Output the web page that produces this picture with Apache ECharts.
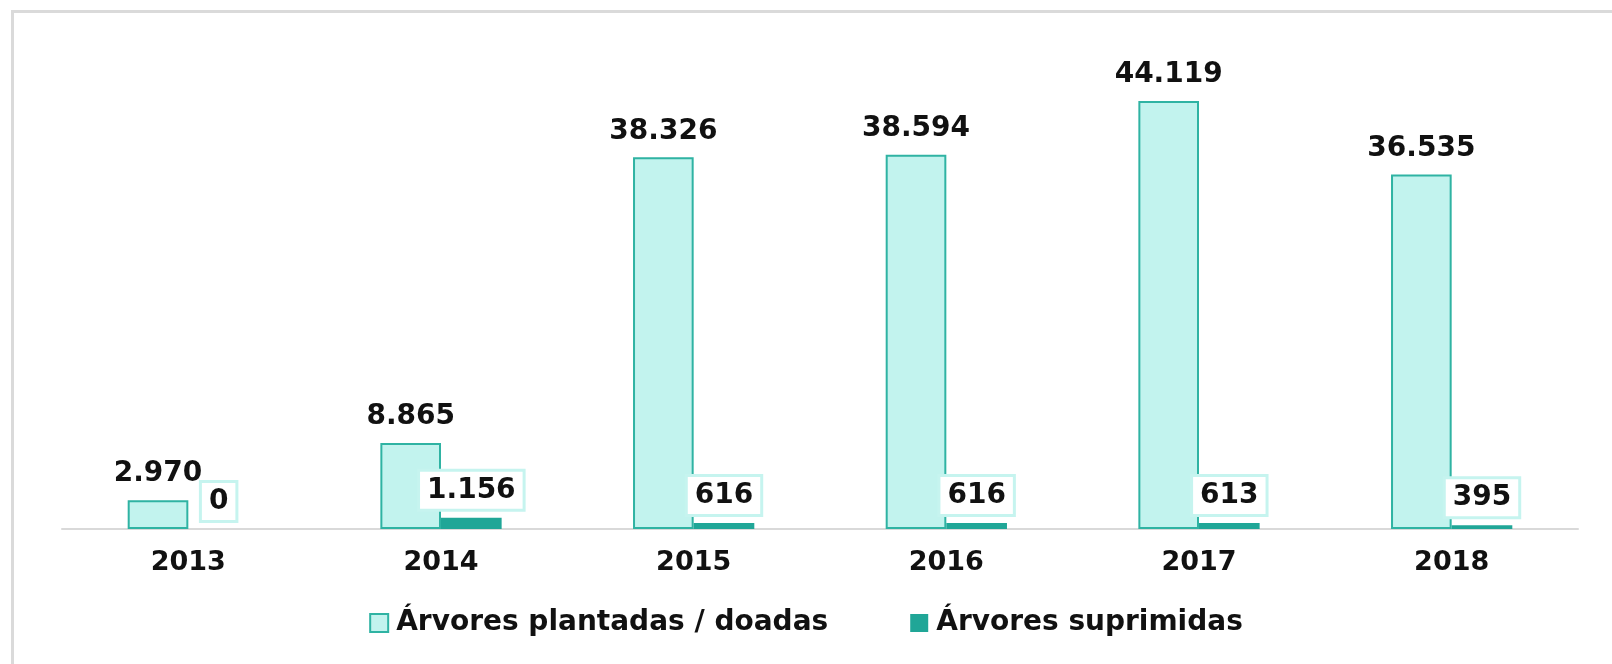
<!DOCTYPE html>
<html>
<head>
<meta charset="utf-8">
<script src="https://cdn.jsdelivr.net/npm/echarts@6/dist/echarts.min.js"></script>
<style>
  html, body { margin: 0; padding: 0; background: #fff; }
  #main { width: 1612px; height: 664px; }
</style>
</head>
<body>
<div id="main"></div>
<script>
// anos
let years = ['2013', '2014', '2015', '2016', '2017', '2018']
// árvores plantadas / doadas
let plantadas = [2970, 8865, 38326, 38594, 44119, 36535]
// árvores suprimidas
let suprimidas = [0, 1156, 616, 616, 613, 395]
// nomes das séries
let seriesNames = ['Árvores plantadas / doadas', 'Árvores suprimidas']

// formato 1.234 (ponto como separador de milhar)
function fmt(v){
    return String(v).replace(/\B(?=(\d{3})+(?!\d))/g, '.')
}

let myChart = echarts.init(document.getElementById('main'))
let fontFam = 'DejaVu Sans'

let option = {
    animation: false,
    backgroundColor: '#fff',
    textStyle: { fontFamily: fontFam },
    graphic: [
        {
            type: 'rect',
            shape: { x: 12.5, y: 11.5, width: 1700, height: 700 },
            style: { fill: 'none', stroke: '#dadada', lineWidth: 3 },
            silent: true
        }
    ],
    grid: {
        left: 62,
        right: 34,
        top: 44,
        bottom: 135
    },
    legend: {
        bottom: 22,
        left: 'center',
        itemWidth: 18,
        itemHeight: 18,
        itemGap: 82,
        icon: 'rect',
        textStyle: {
            fontFamily: fontFam,
            fontSize: 28,
            fontWeight: 'bold',
            color: '#111',
            padding: [0, 0, 0, 3]
        },
        data: seriesNames
    },
    xAxis: {
        type: 'category',
        data: years,
        axisLine: { lineStyle: { color: '#d9d9d9', width: 2 } },
        axisTick: { show: false },
        axisLabel: {
            margin: 20,
            fontFamily: fontFam,
            fontSize: 27,
            fontWeight: 'bold',
            color: '#111'
        }
    },
    yAxis: {
        type: 'value',
        min: 0,
        max: 50000,
        show: false,
        splitLine: { show: false }
    },
    series: [
        {
            name: seriesNames[0],
            type: 'bar',
            data: plantadas,
            barGap: '0%',
            barCategoryGap: '52%',
            itemStyle: {
                color: '#c2f3ee',
                borderColor: '#2fb3a3',
                borderWidth: 2
            },
            label: {
                show: true,
                position: 'top',
                distance: 12,
                fontFamily: fontFam,
                fontSize: 28,
                fontWeight: 'bold',
                color: '#111',
                formatter: p => fmt(p.value)
            }
        },
        {
            name: seriesNames[1],
            type: 'bar',
            data: suprimidas,
            itemStyle: {
                color: '#20a697'
            },
            label: {
                show: true,
                position: 'top',
                distance: 9,
                fontFamily: fontFam,
                fontSize: 28,
                fontWeight: 'bold',
                color: '#111',
                backgroundColor: '#fff',
                borderColor: '#c6f4ef',
                borderWidth: 3,
                padding: [5, 7, 4, 7],
                formatter: p => fmt(p.value)
            }
        }
    ]
}
myChart.setOption(option)
</script>
</body>
</html>
